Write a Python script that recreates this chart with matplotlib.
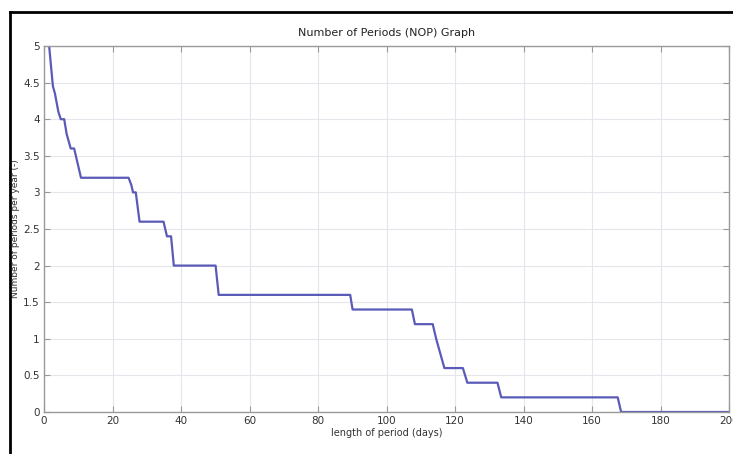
import matplotlib
matplotlib.use("Agg")
import matplotlib.pyplot as plt
from matplotlib.lines import Line2D

# Step-curve vertices (x in days, y in periods/year)
period_days = [1.5, 2.0, 2.6, 3.2, 4.2, 4.9, 5.9, 6.6, 7.8, 8.8, 9.8, 10.8,
               24.7, 25.5, 26.0, 26.8, 27.9, 34.9, 35.4, 35.9, 37.1, 37.9,
               50.1, 51.0, 89.4, 90.1, 107.4, 108.3, 113.5, 114.5, 116.9,
               122.3, 123.6, 132.4, 133.5, 167.5, 168.5, 200.0]
periods_per_year = [5.0, 4.75, 4.45, 4.35, 4.1, 4.0, 4.0, 3.8, 3.6, 3.6, 3.4, 3.2,
                    3.2, 3.1, 3.0, 3.0, 2.6, 2.6, 2.5, 2.4, 2.4, 2.0,
                    2.0, 1.6, 1.6, 1.4, 1.4, 1.2, 1.2, 1.0, 0.6,
                    0.6, 0.4, 0.4, 0.2, 0.2, 0.0, 0.0]

x_ticks = [0, 20, 40, 60, 80, 100, 120, 140, 160, 180, 200]
x_tick_labels = ["0", "20", "40", "60", "80", "100", "120", "140", "160", "180", "200"]
y_ticks = [0, 0.5, 1, 1.5, 2, 2.5, 3, 3.5, 4, 4.5, 5]
y_tick_labels = ["0", "0.5", "1", "1.5", "2", "2.5", "3", "3.5", "4", "4.5", "5"]

title_text = "Number of Periods (NOP) Graph"
x_label = "length of period (days)"
y_label = "Number of periods per year (-)"

W, H = 733, 454
fig = plt.figure(figsize=(W / 100, H / 100), dpi=100)
fig.patch.set_facecolor("white")

ax = fig.add_axes([44 / W, 1 - 412 / H, (729 - 44) / W, (412 - 46) / H])
ax.plot(period_days, periods_per_year, color="#5a5ab8", linewidth=1.6)

ax.set_xlim(0, 200)
ax.set_ylim(0, 5)
ax.set_xticks(x_ticks)
ax.set_xticklabels(x_tick_labels)
ax.set_yticks(y_ticks)
ax.set_yticklabels(y_tick_labels)
ax.grid(True, color="#e4e6ec", linewidth=0.8)
ax.set_axisbelow(True)
ax.tick_params(direction="in", length=4, color="#999999", labelcolor="#333333",
               labelsize=7.5, top=True, right=True, pad=3)
for s in ax.spines.values():
    s.set_color("#9a9a9a")
    s.set_linewidth(1.0)

ax.set_title(title_text, fontsize=8, color="#222222", pad=7)
ax.set_xlabel(x_label, fontsize=7, color="#333333", labelpad=1)
ax.text(16 / W, 0.5 * ((1 - 412 / H) + (1 - 46 / H)), y_label, transform=fig.transFigure,
        rotation=90, ha="center", va="center", fontsize=6.5, color="#333333")

# Black frame at top and left of the figure
fig.add_artist(Line2D([10 / W, 10 / W], [0, 1 - 12 / H], transform=fig.transFigure,
                      color="black", linewidth=2.0))
fig.add_artist(Line2D([10 / W, 1], [1 - 12 / H, 1 - 12 / H], transform=fig.transFigure,
                      color="black", linewidth=2.0))

fig.savefig("out.png", dpi=100)
